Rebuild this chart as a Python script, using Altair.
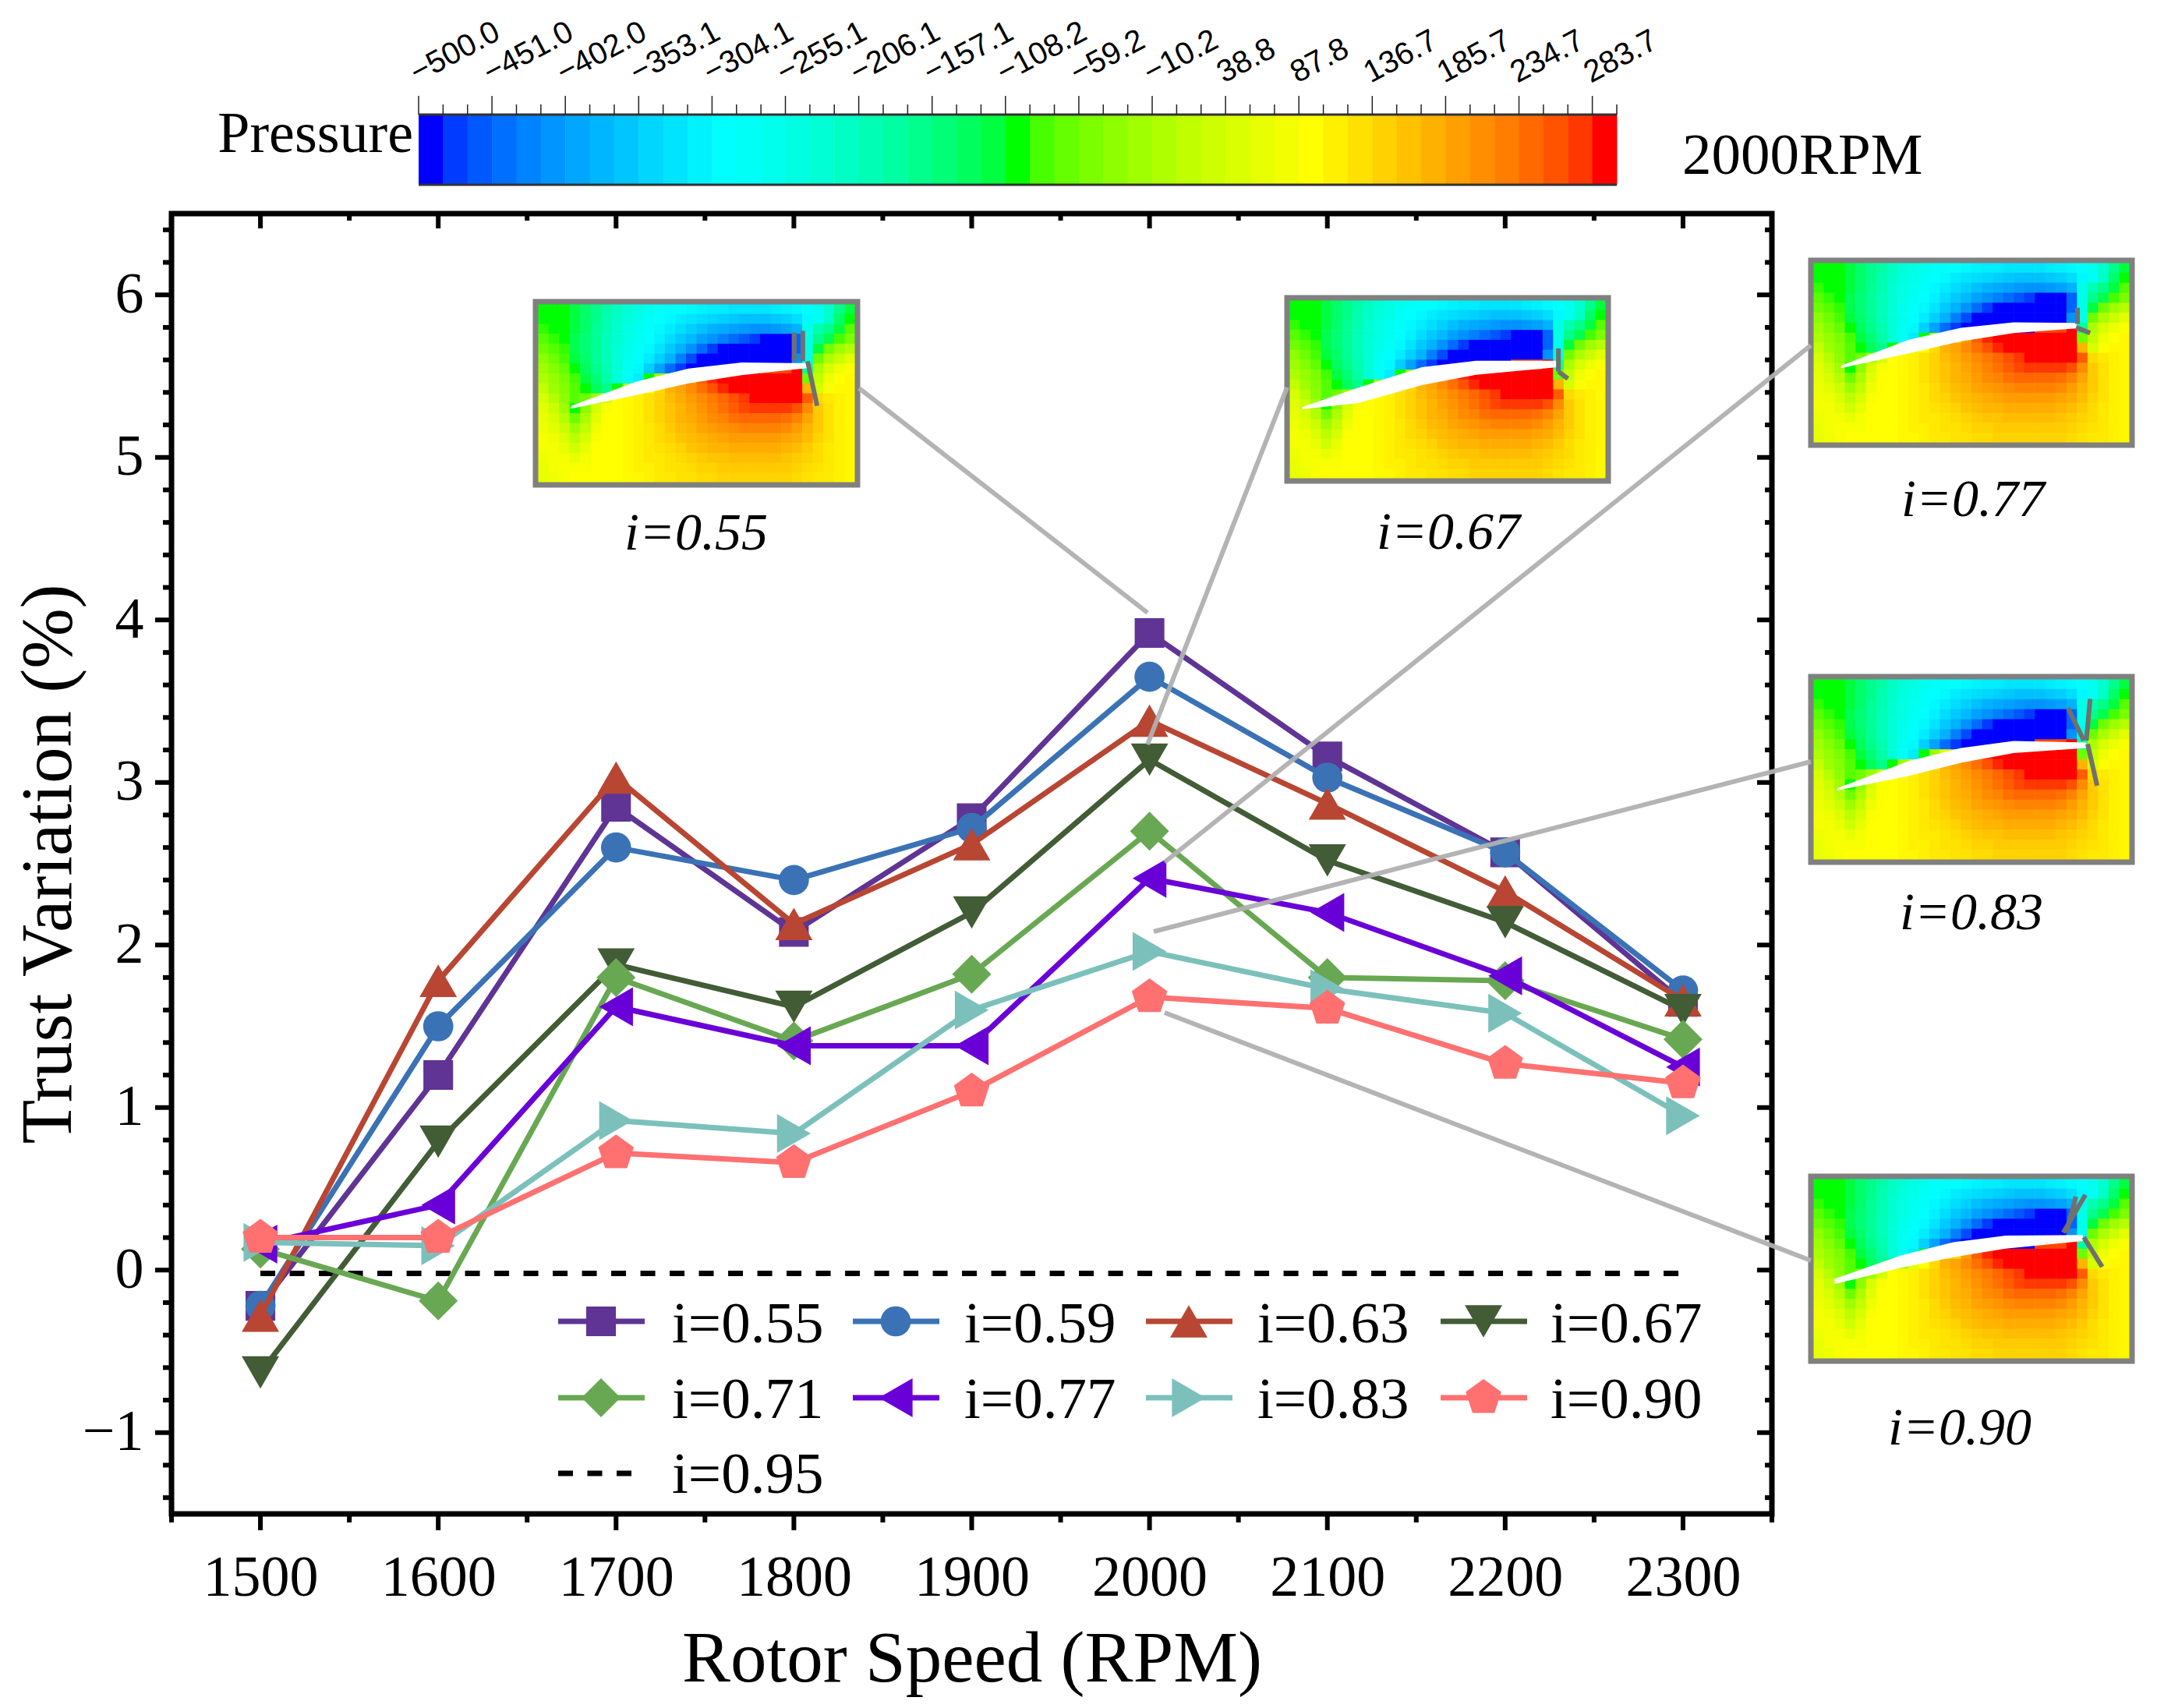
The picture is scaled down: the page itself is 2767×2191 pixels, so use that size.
import altair as alt
import pandas as pd

# ---------- chart values ----------
RPM = [1500, 1600, 1700, 1800, 1900, 2000, 2100, 2200, 2300]
I055 = [-0.22, 1.20, 2.85, 2.08, 2.78, 3.92, 3.16, 2.57, 1.65]
I059 = [-0.22, 1.50, 2.60, 2.40, 2.72, 3.65, 3.03, 2.57, 1.72]
I063 = [-0.28, 1.78, 3.03, 2.13, 2.62, 3.38, 2.87, 2.33, 1.66]
I067 = [-0.63, 0.79, 1.88, 1.62, 2.20, 3.14, 2.52, 2.14, 1.60]
I071 = [0.13, -0.19, 1.80, 1.41, 1.82, 2.70, 1.80, 1.78, 1.42]
I077 = [0.16, 0.40, 1.62, 1.38, 1.38, 2.41, 2.20, 1.81, 1.25]
I083 = [0.17, 0.15, 0.92, 0.84, 1.60, 1.96, 1.73, 1.58, 0.95]
I090 = [0.20, 0.20, 0.72, 0.66, 1.10, 1.68, 1.61, 1.27, 1.15]
I095 = [-0.02, -0.02, -0.02, -0.02, -0.02, -0.02, -0.02, -0.02, -0.02]

PENTAGON = "M0,-1L0.951,-0.309L0.588,0.809L-0.588,0.809L-0.951,-0.309Z"
SERIES = [
    ("i=0.55", I055, "#5f3494", "square", 1450),
    ("i=0.59", I059, "#3a72b5", "circle", 1500),
    ("i=0.63", I063, "#b84632", "triangle-up", 2300),
    ("i=0.67", I067, "#425c36", "triangle-down", 2300),
    ("i=0.71", I071, "#68a852", "diamond", 2500),
    ("i=0.77", I077, "#6a00d8", "triangle-left", 2500),
    ("i=0.83", I083, "#7cc0bc", "triangle-right", 2500),
    ("i=0.90", I090, "#ff7070", PENTAGON, 2300),
]

CBAR_LABELS = ["\u2212500.0", "\u2212451.0", "\u2212402.0", "\u2212353.1", "\u2212304.1", "\u2212255.1",
               "\u2212206.1", "\u2212157.1", "\u2212108.2", "\u221259.2", "\u221210.2", "38.8", "87.8",
               "136.7", "185.7", "234.7", "283.7"]

# pressure field of the insets, as a fraction of the colour bar (rows top to bottom)
FIELD = [
    [.50,.50,.50,.48,.45,.42,.39,.36,.33,.31,.29,.27,.26,.25,.24,.23,.22,.22,.21,.21,.21,.21,.22,.23,.24,.26,.29,.34,.42,.48],
    [.50,.50,.50,.48,.45,.42,.38,.35,.32,.30,.27,.25,.24,.22,.21,.20,.19,.18,.17,.16,.16,.16,.17,.18,.20,.24,.28,.35,.45,.50],
    [.51,.50,.50,.48,.45,.41,.38,.34,.31,.29,.26,.24,.22,.20,.18,.16,.14,.13,.12,.11,.10,.10,.11,.12,.14,.30,.38,.42,.48,.53],
    [.53,.51,.50,.47,.44,.41,.37,.34,.31,.28,.25,.23,.20,.17,.15,.12,.10,.08,.06,.04,.02,.00,.00,.00,.05,.30,.42,.47,.52,.56],
    [.55,.53,.51,.47,.44,.41,.37,.33,.30,.27,.24,.21,.17,.14,.10,.06,.02,.00,.00,.00,.00,.00,.00,.00,.05,.30,.48,.55,.60,.63],
    [.58,.55,.52,.48,.45,.41,.37,.33,.29,.26,.22,.18,.14,.08,.03,.00,.00,.00,.00,.00,.00,.00,.00,.00,.10,.30,.55,.62,.66,.70],
    [.60,.57,.54,.50,.46,.42,.38,.33,.28,.24,.18,.12,.06,.02,.00,.00,.00,.00,.00,.00,.00,.97,.97,.97,1.0,.40,.62,.68,.72,.74],
    [.62,.59,.56,.52,.48,.44,.39,.33,.27,.22,.50,.60,.70,.80,.88,.95,.99,1.0,1.0,1.0,1.0,1.0,1.0,1.0,1.0,.55,.65,.72,.75,.76],
    [.65,.60,.57,.53,.50,.46,.42,.50,.60,.70,.75,.80,.85,.87,.90,.93,.96,.99,1.0,1.0,1.0,1.0,1.0,1.0,1.0,.85,.68,.74,.76,.76],
    [.68,.63,.58,.53,.55,.60,.68,.75,.76,.77,.79,.81,.84,.86,.88,.90,.92,.94,.96,.98,1.0,1.0,1.0,1.0,1.0,.95,.80,.78,.77,.76],
    [.70,.66,.60,.50,.58,.68,.74,.75,.76,.77,.79,.81,.83,.85,.87,.89,.91,.93,.95,.97,.98,.98,.98,.98,.96,.90,.82,.79,.77,.76],
    [.71,.68,.63,.55,.62,.70,.75,.75,.76,.77,.79,.81,.83,.85,.86,.88,.90,.91,.93,.94,.94,.94,.94,.93,.91,.87,.82,.79,.77,.76],
    [.72,.70,.66,.60,.65,.72,.75,.75,.76,.77,.78,.80,.82,.84,.85,.87,.88,.89,.90,.91,.91,.91,.91,.90,.88,.85,.82,.79,.77,.76],
    [.73,.72,.69,.64,.68,.74,.75,.75,.76,.77,.78,.80,.81,.83,.84,.85,.86,.87,.88,.88,.88,.88,.88,.87,.86,.84,.81,.79,.77,.76],
    [.73,.73,.71,.67,.71,.75,.75,.75,.76,.77,.78,.79,.80,.81,.83,.84,.85,.85,.86,.86,.86,.86,.86,.85,.84,.82,.80,.78,.77,.76],
    [.72,.73,.73,.71,.73,.75,.75,.75,.76,.77,.78,.78,.79,.80,.81,.82,.83,.83,.84,.84,.84,.84,.84,.83,.82,.81,.80,.78,.77,.76],
    [.71,.73,.74,.74,.74,.75,.75,.75,.76,.77,.77,.78,.79,.79,.80,.81,.81,.82,.82,.82,.82,.82,.82,.82,.81,.80,.79,.78,.77,.76],
    [.71,.72,.74,.75,.75,.75,.75,.75,.76,.76,.77,.78,.78,.79,.79,.80,.80,.81,.81,.81,.81,.81,.81,.81,.80,.79,.78,.78,.77,.76],
]

# name, frame (left, top, right, bottom), label centre and baseline, blade outline, dark wake strokes
INSETS = [
    ("i=0.55", (687, 387, 1100, 622), (893, 705),
     [.104,.308,.475,.642,.854], [.571,.436,.361,.328,.331], [.586,.511,.444,.398,.358],
     [[(.808,.16),(.808,.32)], [(.85,.32),(.88,.57)], [(.835,.15),(.835,.32)]]),
    ("i=0.67", (1651, 382, 2063, 617), (1858, 704),
     [.040,.218,.419,.590,.848], [.599,.490,.375,.340,.340], [.611,.576,.476,.418,.375],
     [[(.85,.27),(.85,.40)], [(.85,.40),(.88,.44)]]),
    ("i=0.77", (2323, 334, 2735, 571), (2531, 662),
     [.088,.300,.467,.633,.833], [.571,.429,.361,.331,.334], [.586,.504,.436,.391,.365],
     [[(.835,.25),(.835,.34)], [(.83,.36),(.875,.39)]]),
    ("i=0.83", (2323, 868, 2735, 1106), (2529, 1192),
     [.075,.300,.467,.633,.863], [.604,.455,.381,.343,.351], [.616,.537,.463,.410,.381],
     [[(.805,.16),(.855,.34)], [(.875,.11),(.863,.34)], [(.867,.36),(.897,.59)]]),
    ("i=0.90", (2323, 1509, 2735, 1746), (2514, 1853),
     [.067,.275,.442,.608,.852], [.556,.428,.353,.316,.313], [.586,.496,.436,.388,.346],
     [[(.86,.09),(.79,.30)], [(.83,.10),(.80,.30)], [(.855,.325),(.913,.49)]]),
]

# leader lines: inset edge to the point it explains (page pixels)
LEADERS = [
    ("a", (1102, 498), (1472, 786)),
    ("b", (1651, 497), (1472, 955)),
    ("c", (2323, 443), (1494, 1106)),
    ("d", (2323, 977), (1480, 1195)),
    ("e", (2323, 1617), (1494, 1299)),
]

# ---------- layout ----------
PAGE_LEFT, PAGE_TOP = 220.0, 274.0
W, H = 2053, 1668
XMIN, XMAX, YMIN, YMAX = 1450, 2350, -1.5, 6.5
SERIF = "Liberation Serif"
YMAJ = [-1, 0, 1, 2, 3, 4, 5, 6]


def fx(px):
    return XMIN + (px - PAGE_LEFT) / W * (XMAX - XMIN)


def fy(py):
    return YMAX - (py - PAGE_TOP) / H * (YMAX - YMIN)


xs = alt.Scale(domain=[XMIN, XMAX], nice=False, zero=False)
ys = alt.Scale(domain=[YMIN, YMAX], nice=False, zero=False)
cs = alt.Scale(domain=[-500, -300, -100, 100, 300], range=["#0000ff", "#00ffff", "#00ff00", "#ffff00", "#ff0000"])
x_axis = alt.Axis(values=RPM, domain=False, ticks=False, grid=False, format="d", labelFont=SERIF,
                  labelFontSize=74, labelColor="black", labelPadding=46, labelFlush=False,
                  titleFont=SERIF, titleFontSize=93, titleFontWeight="normal", titleColor="black", titlePadding=22)
y_axis = alt.Axis(values=YMAJ, domain=False, ticks=False, grid=False, format="d", labelFont=SERIF,
                  labelFontSize=74, labelColor="black", labelPadding=36,
                  titleFont=SERIF, titleFontSize=93, titleFontWeight="normal", titleColor="black", titlePadding=-5)
X = alt.X("x:Q", scale=xs, axis=x_axis, title="Rotor Speed (RPM)")
Y = alt.Y("y:Q", scale=ys, axis=y_axis, title="Trust Variation (%)")
X2 = alt.X2("x2:Q")
Y2 = alt.Y2("y2:Q")
layers = []


def text_layer(rows, size, align="center", style="normal", font=SERIF, angle=None, baseline="alphabetic"):
    kw = dict(font=font, fontSize=size, align=align, baseline=baseline, color="black", fontStyle=style)
    if angle is not None:
        kw["angle"] = angle
    return alt.Chart(pd.DataFrame(rows, columns=["x", "y", "t"])).mark_text(**kw).encode(x=X, y=Y, text="t:N")


# frame ticks
XMIN_T = [1450 + 100 * k for k in range(10)]
YMIN_T = [-1.4, -1.2, -0.8, -0.6, -0.4, -0.2, 0.2, 0.4, 0.6, 0.8, 1.2, 1.4, 1.6, 1.8, 2.2, 2.4, 2.6, 2.8,
          3.2, 3.4, 3.6, 3.8, 4.2, 4.4, 4.6, 4.8, 5.2, 5.4, 5.6, 5.8, 6.2, 6.4]
tick = dict(color="black", strokeWidth=6)
for vals, ln_out, ln_in in [(RPM, 21, 19), (XMIN_T, 11, 9)]:
    d = pd.DataFrame({"x": vals})
    layers.append(alt.Chart(d).mark_rule(**tick).encode(x=X, y=alt.value(H), y2=alt.value(H + ln_out)))
    layers.append(alt.Chart(d).mark_rule(**tick).encode(x=X, y=alt.value(0), y2=alt.value(ln_in)))
for vals, ln_out, ln_in in [(YMAJ, 21, 19), (YMIN_T, 11, 9)]:
    d = pd.DataFrame({"y": vals})
    layers.append(alt.Chart(d).mark_rule(**tick).encode(y=Y, x=alt.value(-ln_out), x2=alt.value(0)))
    layers.append(alt.Chart(d).mark_rule(**tick).encode(y=Y, x=alt.value(W), x2=alt.value(W - ln_in)))

# colour bar
CB_L, CB_R, CB_T, CB_B = 537.0, 2074.0, 147.0, 237.0
N_BANDS = 49


def cb_px(k):
    return CB_L + (CB_R - CB_L) * k / N_BANDS


bands = pd.DataFrame([
    {"x": fx(cb_px(k)), "x2": fx(cb_px(k + 1) + 0.5), "y": fy(CB_T), "y2": fy(CB_B),
     "p": -500 + 800 * k / (N_BANDS - 1)}
    for k in range(N_BANDS)
])
layers.append(alt.Chart(bands).mark_rect(strokeWidth=0).encode(
    x=X, x2=X2, y=Y, y2=Y2, color=alt.Color("p:Q", scale=cs, legend=None)))
edges = pd.DataFrame([
    {"x": fx(CB_L), "x2": fx(CB_R), "y": fy(CB_T)},
    {"x": fx(CB_L), "x2": fx(CB_R), "y": fy(CB_B)},
])
layers.append(alt.Chart(edges).mark_rule(color="#333333", strokeWidth=3).encode(x=X, x2=X2, y=Y))
cb_ticks = pd.DataFrame([
    {"x": fx(cb_px(k)), "y": fy(123 if k % 3 == 0 else 134), "y2": fy(CB_T)} for k in range(N_BANDS + 1)
])
layers.append(alt.Chart(cb_ticks).mark_rule(color="#222222", strokeWidth=1.5).encode(x=X, y=Y, y2=Y2))
layers.append(text_layer(
    [(fx(cb_px(3 * k) - 2), fy(107), t) for k, t in enumerate(CBAR_LABELS)],
    40, align="left", font="Liberation Sans", angle=332))
layers.append(text_layer([(fx(530), fy(195), "Pressure")], 74, align="right"))
layers.append(text_layer([(fx(2158), fy(223), "2000RPM")], 75, align="left"))

# insets
cells, frames, blades, edges_g, inset_labels = [], [], [], [], []
rows, cols = len(FIELD), len(FIELD[0])
for name, (l, t, r, b), (lx, ly), bx, bu, bl, wedges in INSETS:
    il, it, ir, ib = l + 3, t + 3, r - 3, b - 3
    iw, ih = ir - il, ib - it
    for j, row in enumerate(FIELD):
        for k, v in enumerate(row):
            cells.append({"inset": name,
                          "x": fx(il + iw * k / cols), "x2": fx(il + iw * (k + 1) / cols + 0.6),
                          "y": fy(it + ih * j / rows), "y2": fy(it + ih * (j + 1) / rows + 0.6),
                          "p": -500 + 800 * v})
    for a, u, w in zip(bx, bu, bl):
        blades.append({"inset": name, "x": fx(il + iw * a), "y": fy(it + ih * u), "y2": fy(it + ih * w)})
    for n, seg in enumerate(wedges):
        for a, c in seg:
            edges_g.append({"g": f"{name}-{n}", "x": fx(il + iw * a), "y": fy(it + ih * c)})
    frames.append({"x": fx(l), "x2": fx(r), "y": fy(t), "y2": fy(b)})
    inset_labels.append((fx(lx), fy(ly), name))

layers.append(alt.Chart(pd.DataFrame(cells)).mark_rect(strokeWidth=0).encode(
    x=X, x2=X2, y=Y, y2=Y2, color=alt.Color("p:Q", scale=cs, legend=None)))
layers.append(alt.Chart(pd.DataFrame(blades)).mark_area(color="white", opacity=1).encode(
    x=X, y=Y, y2=Y2, detail="inset:N"))
layers.append(alt.Chart(pd.DataFrame(edges_g)).mark_line(color="#707070", strokeWidth=6).encode(
    x=X, y=Y, detail="g:N"))
layers.append(alt.Chart(pd.DataFrame(frames)).mark_rect(fillOpacity=0, stroke="#808080", strokeWidth=7).encode(
    x=X, x2=X2, y=Y, y2=Y2))
layers.append(text_layer(inset_labels, 68, style="italic"))

# series
layers.append(alt.Chart(pd.DataFrame({"x": RPM, "y": I095})).mark_line(
    color="black", strokeWidth=7, strokeDash=[19, 18.5]).encode(x=X, y=Y))
for name, vals, color, shape, size in SERIES:
    d = pd.DataFrame({"x": RPM, "y": vals})
    layers.append(alt.Chart(d).mark_line(color=color, strokeWidth=7).encode(x=X, y=Y))
    layers.append(alt.Chart(d).mark_point(color=color, fill=color, filled=True, opacity=1, shape=shape, size=size,
                                          strokeWidth=0).encode(x=X, y=Y))

# leader lines
lead = []
for g, a, b in LEADERS:
    lead += [{"g": g, "x": fx(a[0]), "y": fy(a[1])}, {"g": g, "x": fx(b[0]), "y": fy(b[1])}]
layers.append(alt.Chart(pd.DataFrame(lead)).mark_line(color="#b0b0b0", strokeWidth=6, opacity=0.95).encode(
    x=X, y=Y, detail="g:N"))

# legend
LEG_X = [716, 1094, 1470, 1848]
LEG_TXT = [862, 1237, 1613, 1989]
LEG_Y = [1695, 1793, 1890]
LEG_BASE = [1722, 1819, 1915]
leg_text = []
for n, (name, vals, color, shape, size) in enumerate(SERIES):
    c, r = n % 4, n // 4
    d = pd.DataFrame({"x": [fx(LEG_X[c]), fx(LEG_X[c] + 111)], "y": [fy(LEG_Y[r])] * 2})
    layers.append(alt.Chart(d).mark_line(color=color, strokeWidth=7).encode(x=X, y=Y))
    mid = pd.DataFrame({"x": [fx(LEG_X[c] + 55)], "y": [fy(LEG_Y[r])]})
    layers.append(alt.Chart(mid).mark_point(color=color, fill=color, filled=True, opacity=1, shape=shape, size=size,
                                            strokeWidth=0).encode(x=X, y=Y))
    leg_text.append((fx(LEG_TXT[c]), fy(LEG_BASE[r]), name))
leg_text.append((fx(LEG_TXT[0]), fy(LEG_BASE[2]), "i=0.95"))
dash = pd.DataFrame({"x": [fx(716), fx(815)], "y": [fy(LEG_Y[2])] * 2})
layers.append(alt.Chart(dash).mark_line(color="black", strokeWidth=7, strokeDash=[19, 18.5]).encode(x=X, y=Y))
layers.append(text_layer(leg_text, 75, align="left"))

chart = alt.layer(*layers).properties(
    width=W, height=H,
    autosize=alt.AutoSizeParams(type="none"),
    padding={"left": PAGE_LEFT - 8, "top": PAGE_TOP - 8, "right": 470, "bottom": 240},
    background="white",
).configure_view(stroke="black", strokeWidth=7)

chart.save("out.html", embed_options={"renderer": "svg", "actions": False})
